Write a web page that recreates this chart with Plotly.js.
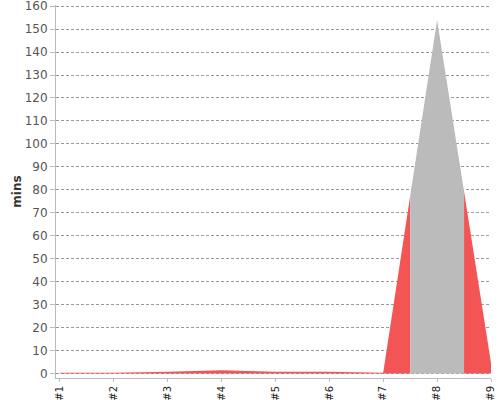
<!DOCTYPE html>
<html>
<head>
<meta charset="utf-8">
<script src="https://cdn.plot.ly/plotly-3.0.1.min.js"></script>
<style>
    html, body { margin: 0; padding: 0; background: #fff; }
    #chart { width: 500px; height: 400px; }
</style>
</head>
<body>
<div id="chart"></div>
<script>
let builds = [1, 2, 3, 4, 5, 6, 7, 8, 9];
let buildLabels = ['#1', '#2', '#3', '#4', '#5', '#6', '#7', '#8', '#9'];
let durations = [0.3, 0.3, 0.7, 1.4, 0.7, 0.7, 0.3, 154, 4.5];
let results = ['FAILURE', 'FAILURE', 'FAILURE', 'FAILURE', 'FAILURE', 'FAILURE', 'FAILURE', 'ABORTED', 'FAILURE'];
let yTicks = [0, 10, 20, 30, 40, 50, 60, 70, 80, 90, 100, 110, 120, 130, 140, 150, 160];

let resultColors = {
    FAILURE: 'rgb(243, 84, 84)',
    ABORTED: 'rgb(187, 187, 187)'
};

// each build owns the area from half way to its neighbours
function midpoint(i, j) {
    return (durations[i] + durations[j]) / 2;
}

let traces = [];
let start = 0;

for (let i = 1; i <= builds.length; i++) {
    if (i < builds.length && results[i] === results[start]) {
        continue;
    }

    let end = i - 1;
    let xs = [];
    let ys = [];

    if (start > 0) {
        xs.push((builds[start - 1] + builds[start]) / 2);
        ys.push(midpoint(start - 1, start));
    }

    for (let k = start; k <= end; k++) {
        xs.push(builds[k]);
        ys.push(durations[k]);
    }

    if (end < builds.length - 1) {
        xs.push((builds[end] + builds[end + 1]) / 2);
        ys.push(midpoint(end, end + 1));
    }

    traces.push({
        x: xs,
        y: ys,
        type: 'scatter',
        mode: 'lines',
        fill: 'tozeroy',
        fillcolor: resultColors[results[start]],
        line: { width: 0, color: resultColors[results[start]] },
        hoverinfo: 'skip',
        showlegend: false
    });

    start = i;
}

let layout = {
    width: 500,
    height: 400,
    margin: { l: 56, r: 9, t: 5, b: 22 },
    paper_bgcolor: '#fff',
    plot_bgcolor: '#fff',
    showlegend: false,
    font: { family: 'DejaVu Sans', size: 12, color: '#555' },
    xaxis: {
        range: [0.93, 9],
        tickmode: 'array',
        tickvals: builds,
        ticktext: buildLabels,
        tickangle: -90,
        tickfont: { family: 'DejaVu Sans', size: 10, color: '#222' },
        ticks: 'outside',
        ticklen: 3,
        tickcolor: '#bbb',
        showgrid: false,
        zeroline: false,
        showline: true,
        linecolor: '#bbb',
        linewidth: 1,
        fixedrange: true
    },
    yaxis: {
        range: [-2, 160.5],
        tickmode: 'array',
        tickvals: yTicks,
        ticks: 'outside',
        ticklen: 5,
        tickcolor: '#bbb',
        tickfont: { family: 'DejaVu Sans', size: 12, color: '#555' },
        ticklabeloverflow: 'allow',
        showgrid: true,
        gridcolor: '#999',
        griddash: '3px,2px',
        gridwidth: 1,
        zeroline: false,
        showline: true,
        linecolor: '#bbb',
        linewidth: 1,
        title: {
            text: 'mins',
            font: { family: 'DejaVu Sans', size: 12, color: '#333', weight: 'bold' },
            standoff: 0
        },
        fixedrange: true
    }
};

Plotly.newPlot('chart', traces, layout, { displayModeBar: false, staticPlot: true });
</script>
</body>
</html>
